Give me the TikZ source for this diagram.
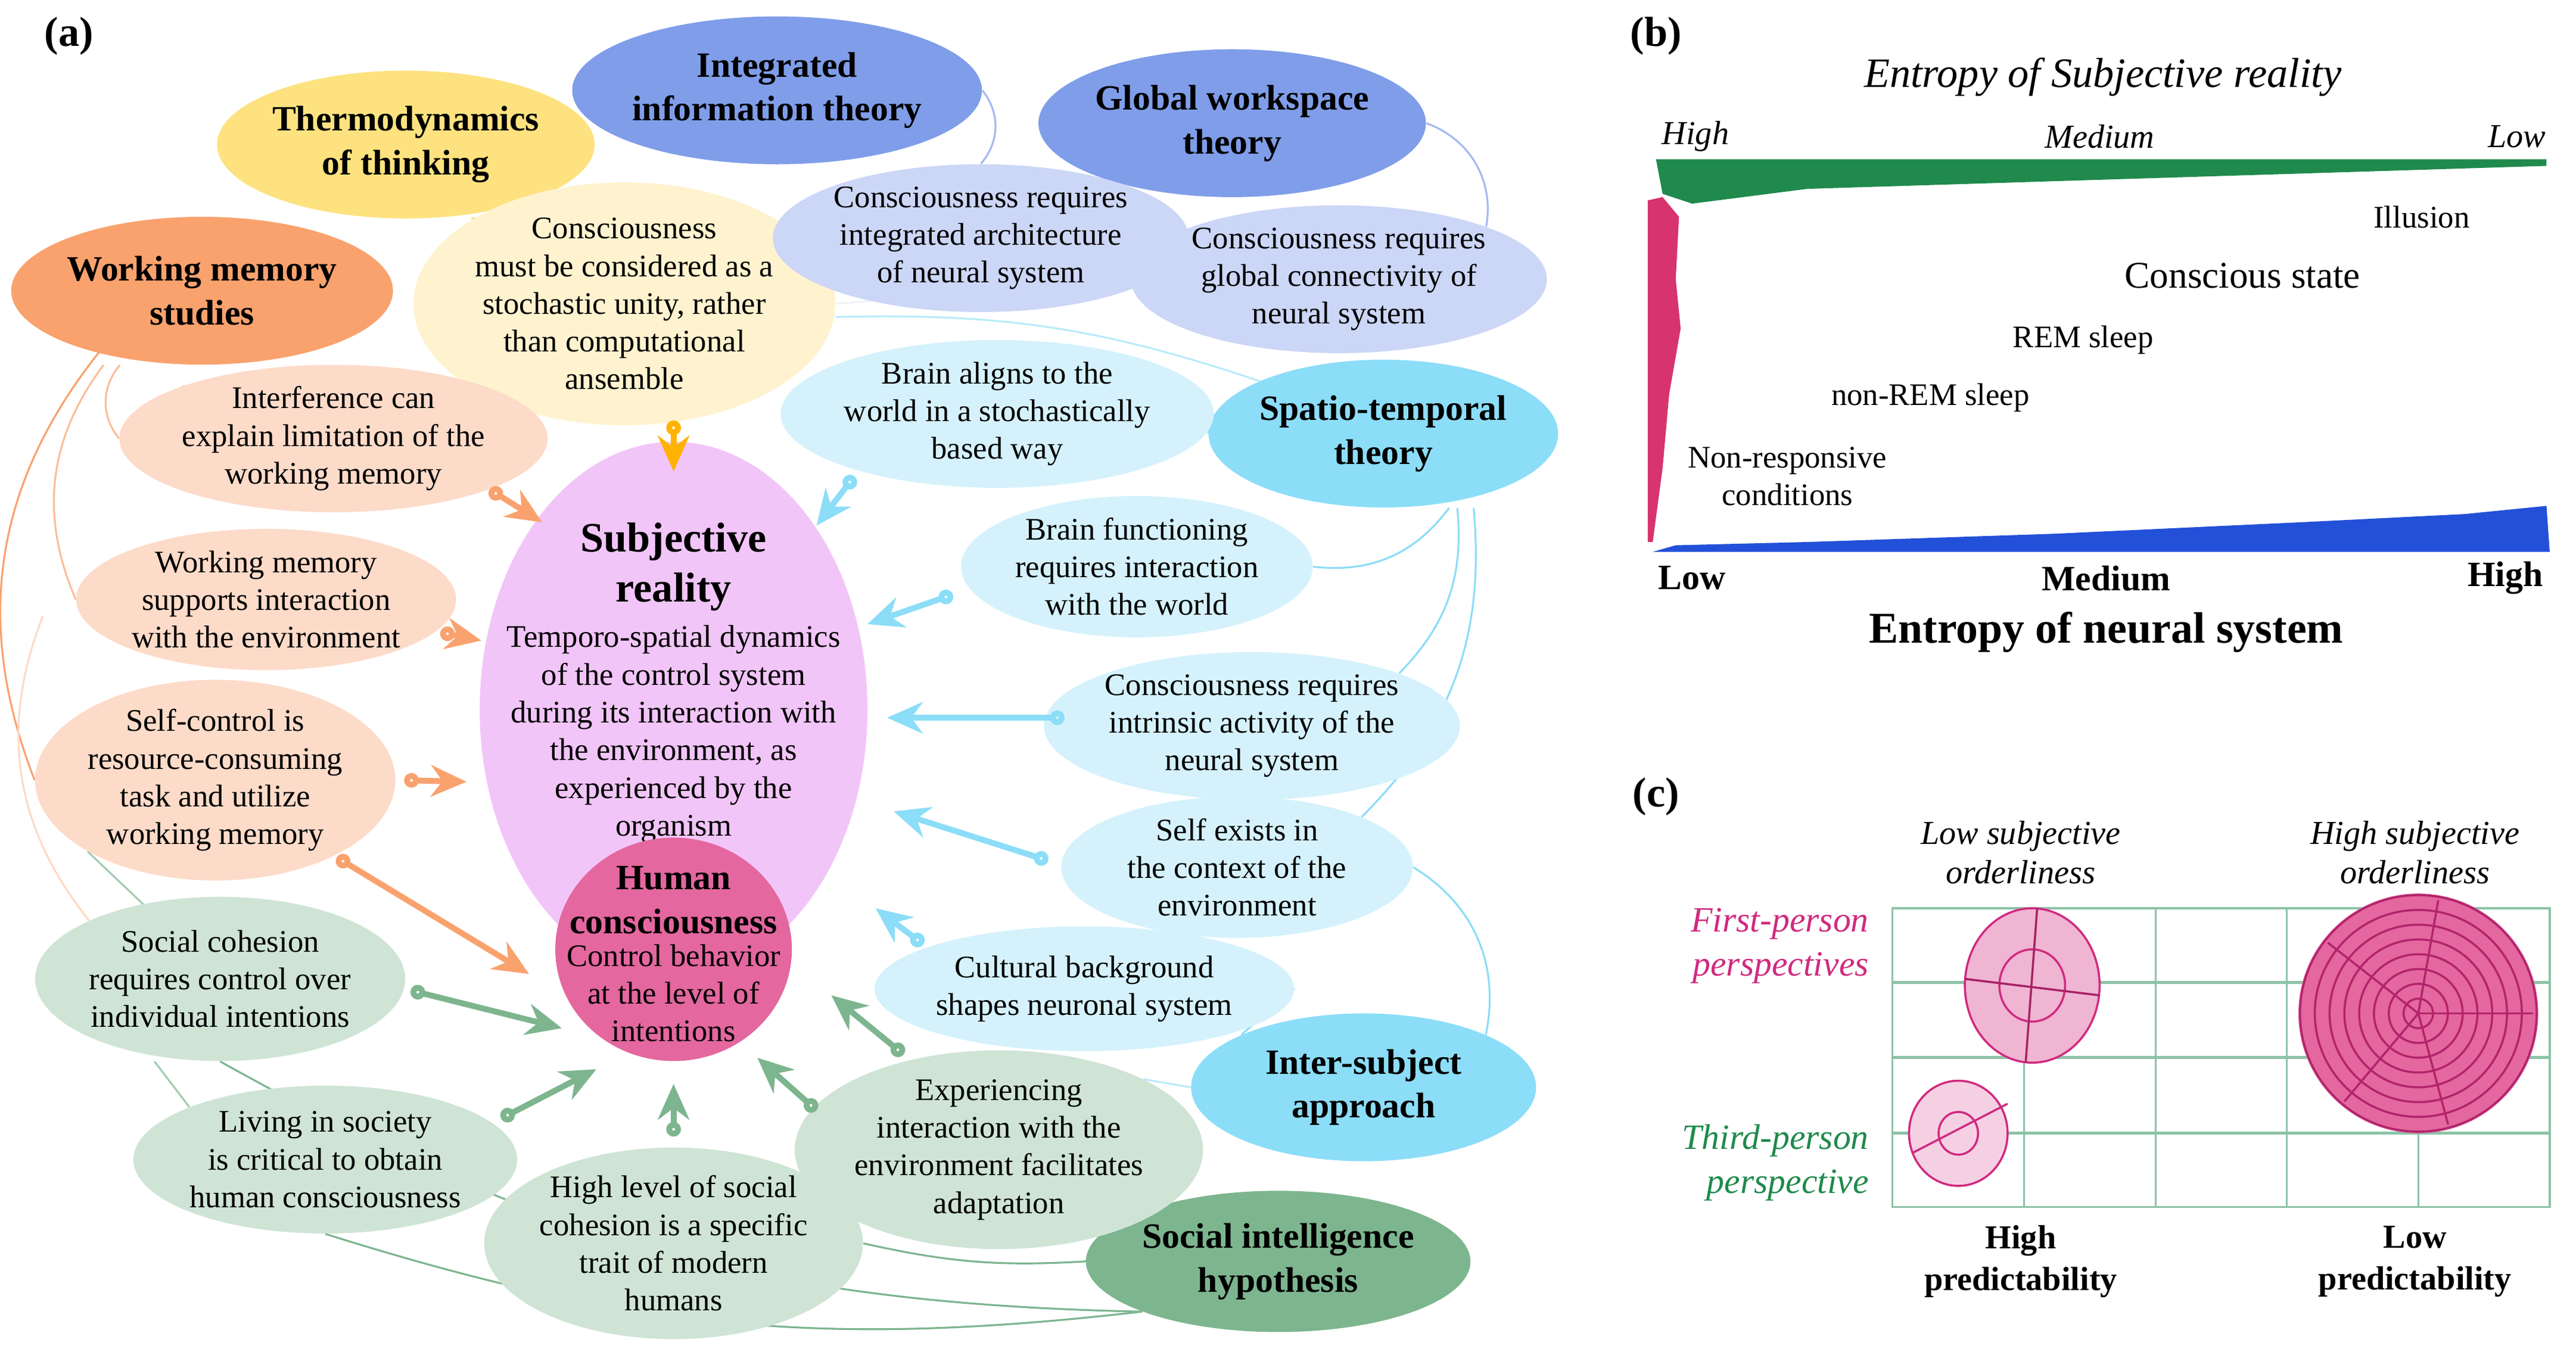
\documentclass[tikz,border=0pt]{standalone}
\usepackage{fontspec}
\setmainfont{Liberation Serif}
\usepackage{tikz}
\usetikzlibrary{positioning,shapes.geometric,arrows.meta,backgrounds}

\definecolor{thermo}{HTML}{FDE27F}
\definecolor{thermoL}{HTML}{FFF3CF}
\definecolor{integ}{HTML}{7F9DE9}
\definecolor{integL}{HTML}{CCD6F6}
\definecolor{wmem}{HTML}{F9A26E}
\definecolor{wmemL}{HTML}{FDDBC9}
\definecolor{spat}{HTML}{8CDDF8}
\definecolor{spatL}{HTML}{D5F2FC}
\definecolor{soc}{HTML}{7DB58F}
\definecolor{socL}{HTML}{CFE4D5}
\definecolor{subj}{HTML}{F2C5F8}
\definecolor{human}{HTML}{E4679F}
\definecolor{mag}{HTML}{D12A7F}
\definecolor{gridg}{HTML}{8CC3A6}
\definecolor{entg}{HTML}{1F8A4C}
\definecolor{entb}{HTML}{2350D8}
\definecolor{entp}{HTML}{D7336F}

\tikzset{
  el/.style 2 args={ellipse, align=center, inner sep=0pt,
    minimum width=#1*0.02758cm, minimum height=#2*0.02758cm},
  txt/.style={font=\fontsize{15}{18}\selectfont},
  hd/.style={font=\fontsize{17}{21}\selectfont\bfseries},
  arr/.style={line width=2.8pt, {Circle[open,length=7pt,width=7pt]}-{Stealth[length=17pt,width=15pt]}},
  lnk/.style={line width=0.9pt},
  lab/.style={font=\fontsize{20}{24}\selectfont\bfseries},
}

\begin{document}
\begin{tikzpicture}[x=0.02758cm, y=-0.02758cm]
\useasboundingbox (0,0) rectangle (1568,823);

% panel (a): theories
\node[lab] (la) at (42,22) {(a)};
\node[el={210}{90}, fill=thermo, hd] (thermo) at (247,88) {Thermodynamics\\of thinking};
\node[el={210}{90}, fill=integ, hd] (integ) at (473,55) {Integrated\\information theory};
\node[el={210}{90}, fill=integ, hd] (glob) at (750,75) {Global workspace\\theory};
\node[el={210}{90}, fill=wmem, hd] (wmem) at (123,177) {Working memory\\studies};
\node[el={210}{90}, fill=spat, hd] (spat) at (842,264) {Spatio-temporal\\theory};
\node[el={210}{90}, fill=spat, hd] (inter) at (830,662) {Inter-subject\\approach};
\node[el={210}{86}, fill=soc, hd] (socint) at (778,768) {Social intelligence\\hypothesis};

% statements
\node[el={216}{132}, fill=thermoL, txt] (stoch) at (380,185) {Consciousness\\must be considered as a\\stochastic unity, rather\\than computational\\ansemble};
\node[el={214}{90}, fill=integL, txt] (intarch) at (597,145) {Consciousness requires\\integrated architecture\\of neural system};
\node[el={214}{90}, fill=integL, txt] (globcon) at (815,170) {Consciousness requires\\global connectivity of\\neural system};
\node[el={214}{86}, fill=wmemL, txt] (interf) at (203,267) {Interference can\\explain limitation of the\\working memory};
\node[el={214}{86}, fill=wmemL, txt] (wmsup) at (162,365) {Working memory\\supports interaction\\with the environment};
\node[el={214}{110}, fill=wmemL, txt] (selfc) at (131,475) {Self-control is\\resource-consuming\\task and utilize\\working memory};
\node[el={214}{90}, fill=spatL, txt] (align) at (607,252) {Brain aligns to the\\world in a stochastically\\based way};
\node[el={214}{86}, fill=spatL, txt] (bfunc) at (692,345) {Brain functioning\\requires interaction\\with the world};
\node[el={214}{90}, fill=spatL, txt] (intrin) at (762,442) {Consciousness requires\\intrinsic activity of the\\neural system};
\node[el={214}{86}, fill=spatL, txt] (selfex) at (753,528) {Self exists in\\the context of the\\environment};
\node[el={214}{76}, fill=spatL, txt] (cult) at (660,602) {Cultural background\\shapes neuronal system};
\node[el={214}{100}, fill=socL, txt] (cohes) at (134,596) {Social cohesion\\requires control over\\individual intentions};
\node[el={214}{90}, fill=socL, txt] (exper) at (608,700) {Experiencing\\interaction with the\\environment facilitates\\adaptation};
\node[el={214}{90}, fill=socL, txt] (living) at (198,706) {Living in society\\is critical to obtain\\human consciousness};
\node[el={214}{100}, fill=socL, txt] (hlev) at (410,757) {High level of social\\cohesion is a specific\\trait of modern\\humans};

% centre
\node[el={236}{326}, fill=subj] (subj) at (410,432) {};
\node[font=\fontsize{20}{24}\selectfont\bfseries, align=center] (subjt) at (410,345) {Subjective\\reality};
\node[txt, align=center, below=0pt of subjt] (subjd) {Temporo-spatial dynamics\\of the control system\\during its interaction with\\the environment, as\\experienced by the\\organism};
\node[el={144}{136}, fill=human, align=center] (human) at (410,578) {};
\node[hd, align=center] (humant) at (410,548) {Human\\consciousness};
\node[txt, align=center, below=-2pt of humant] (humand) {Control behavior\\at the level of\\intentions};

% links
\begin{pgfonlayer}{background}
\draw[lnk, integ!70] (integ.east) to[bend left=40] (intarch.north);
\draw[lnk, integ!70] (glob.east) to[bend left=40] (globcon.north east);
\draw[lnk, thermo] (thermo.south) ++(40,0) -- (stoch.north west);
\draw[lnk, integL!90!black!20] (stoch.east) -- (globcon.west);
\draw[lnk, spat!60] (stoch.east) ++(0,8) to[bend left=10] (spat.north west);
\draw[lnk, wmemL!80!wmem] (interf.north west) -- (stoch.south west);
\draw[lnk, wmem] (wmem.south west) ++(20,5) to[bend right=30] (selfc.west);
\draw[lnk, wmem!70] (wmem.south) ++(-50,0) to[bend right=40] (interf.west);
\draw[lnk, wmem!70] (wmem.south) ++(-60,0) to[bend right=30] (wmsup.west);
\draw[lnk, wmem!40] (wmsup.west) ++(-20,10) to[bend right=30] (cohes.north west);
\draw[lnk, soc!70] (cohes.north west) ++(35,-8) -- (selfc.south west);
\draw[lnk, spat] (align.east) -- (spat.west);
\draw[lnk, spat] (spat.south) ++(40,0) to[bend left=30] (bfunc.east);
\draw[lnk, spat] (spat.south) ++(45,0) to[bend left=25] (intrin.north east);
\draw[lnk, spat] (spat.south) ++(55,0) to[bend left=25] (selfex.north east);
\draw[lnk, spat] (selfex.east) to[bend left=35] (inter.north east);
\draw[lnk, spat] (cult.east) -- (inter.north west);
\draw[lnk, spat!60] (inter.west) -- (exper.north east);
\draw[lnk, soc] (socint.west) to[bend left=10] (exper.south east);
\draw[lnk, soc] (socint.west) to[bend left=8] (hlev.east);
\draw[lnk, soc] (socint.south west) to[bend left=12] (living.south);
\draw[lnk, soc] (socint.south west) to[bend left=14] (cohes.south);
\draw[lnk, soc!70] (cohes.south) ++(-40,0) -- (living.north west);
\end{pgfonlayer}

% arrows into centre
\coordinate (t1) at (298,298); \coordinate (h1) at (330,318);
\coordinate (t2) at (268,385); \coordinate (h2) at (293,390);
\coordinate (t3) at (246,475); \coordinate (h3) at (284,476);
\coordinate (t4) at (205,522); \coordinate (h4) at (322,593);
\coordinate (t5) at (410,256); \coordinate (h5) at (410,287);
\coordinate (t6) at (520,290); \coordinate (h6) at (497,320);
\coordinate (t7) at (580,362); \coordinate (h7) at (528,380);
\coordinate (t8) at (648,437); \coordinate (h8) at (540,437);
\coordinate (t9) at (638,524); \coordinate (h9) at (544,494);
\coordinate (t10) at (562,575); \coordinate (h10) at (533,553);
\coordinate (t11) at (250,603); \coordinate (h11) at (342,626);
\coordinate (t12) at (305,681); \coordinate (h12) at (363,651);
\coordinate (t13) at (410,692); \coordinate (h13) at (410,660);
\coordinate (t14) at (497,676); \coordinate (h14) at (461,644);
\coordinate (t15) at (550,642); \coordinate (h15) at (506,606);
\foreach \i in {1,...,4} \draw[arr, wmem] (t\i) -- (h\i);
\draw[arr, orange!60!yellow] (t5) -- (h5);
\foreach \i in {6,...,10} \draw[arr, spat] (t\i) -- (h\i);
\foreach \i in {11,...,15} \draw[arr, soc] (t\i) -- (h\i);

% panel (b)
\node[lab] (lb) at (1008,22) {(b)};
\node[font=\fontsize{20}{24}\selectfont\itshape] (entsub) at (1280,47) {Entropy of Subjective reality};
\node[font=\fontsize{16}{19}\selectfont\itshape] (sh) at (1032,83) {High};
\node[font=\fontsize{16}{19}\selectfont\itshape] (sm) at (1278,83) {Medium};
\node[font=\fontsize{16}{19}\selectfont\itshape] (sl) at (1532,83) {Low};
\fill[entg] (1008,97) -- (1550,97) -- (1550,101) -- (1100,115) -- (1030,124) -- (1012,118) -- cycle;
\fill[entp] (1003,122) -- (1012,120) -- (1022,132) -- (1020,170) -- (1023,200) -- (1016,240) -- (1012,285) -- (1006,330) -- (1003,330) -- cycle;
\fill[entb] (1006,336) -- (1552,336) -- (1550,308) -- (1500,313) -- (1400,318) -- (1250,325) -- (1100,330) -- (1020,332) -- cycle;
\node[font=\fontsize{15}{18}\selectfont] (ill) at (1474,132) {Illusion};
\node[font=\fontsize{18}{22}\selectfont] (cst) at (1365,168) {Conscious state};
\node[font=\fontsize{15}{18}\selectfont] (rem) at (1268,207) {REM sleep};
\node[font=\fontsize{15}{18}\selectfont] (nrem) at (1175,242) {non-REM sleep};
\node[font=\fontsize{15}{18}\selectfont, align=center] (nresp) at (1088,290) {Non-responsive\\conditions};
\node[font=\fontsize{17}{20}\selectfont\bfseries] (nl) at (1030,352) {Low};
\node[font=\fontsize{17}{20}\selectfont\bfseries] (nm) at (1282,352) {Medium};
\node[font=\fontsize{17}{20}\selectfont\bfseries] (nh) at (1525,352) {High};
\node[font=\fontsize{21}{25}\selectfont\bfseries] (entn) at (1282,385) {Entropy of neural system};

% panel (c)
\node[lab] (lc) at (1008,485) {(c)};
\draw[gridg, line width=0.9pt] (1152,553) rectangle (1552,735);
\foreach \x in {1232,1312,1392,1472} \draw[gridg, line width=0.9pt] (\x,553) -- (\x,735);
\foreach \y in {598,644,690} \draw[gridg, line width=1.4pt] (1152,\y) -- (1552,\y);
\fill[mag!35, draw=mag, line width=1pt] (1237,600) ellipse [x radius=41, y radius=47];
\draw[mag, line width=1pt] (1237,600) ellipse [x radius=20, y radius=22];
\draw[mag!80!black, line width=1pt] (1240,553) -- (1233,647);
\draw[mag!80!black, line width=1pt] (1196,596) -- (1278,606);
\fill[mag!22, draw=mag, line width=1pt] (1192,690) ellipse [x radius=30, y radius=32];
\draw[mag, line width=1pt] (1192,690) ellipse [x radius=12, y radius=13];
\draw[mag, line width=1pt] (1164,702) -- (1222,672);
\fill[human] (1472,617) circle (73);
\foreach \r in {9,18,...,72} \draw[mag!85!black, line width=1pt] (1472,617) circle (\r);
\foreach \a in {-80,0,75,130,-142} \draw[mag!85!black, line width=1pt] (1472,617) -- ++(\a:70);
\node[font=\fontsize{16}{19}\selectfont\itshape, align=center] (lso) at (1230,519) {Low subjective\\orderliness};
\node[font=\fontsize{16}{19}\selectfont\itshape, align=center] (hso) at (1470,519) {High subjective\\orderliness};
\node[font=\fontsize{17}{21}\selectfont\itshape, align=right, text=mag, anchor=east] (fp) at (1142,576) {First-person\\perspectives};
\node[font=\fontsize{17}{21}\selectfont\itshape, align=right, text=entg, anchor=east] (tp) at (1142,708) {Third-person\\perspective};
\node[font=\fontsize{16}{20}\selectfont\bfseries, align=center] (hp) at (1230,768) {High\\predictability};
\node[font=\fontsize{16}{20}\selectfont\bfseries, align=center] (lp) at (1470,768) {Low\\predictability};
\end{tikzpicture}
\end{document}
